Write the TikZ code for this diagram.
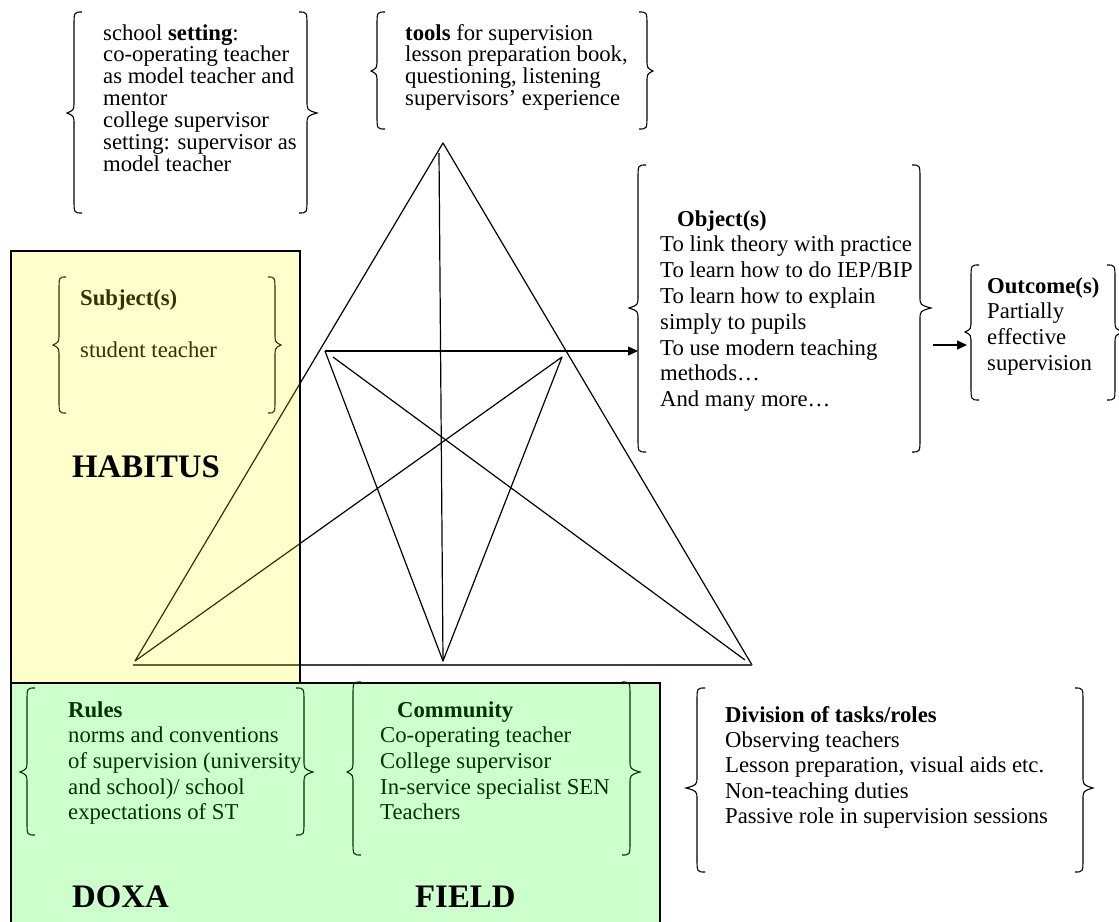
\documentclass[tikz,border=0pt]{standalone}
\usepackage{fontspec}
\setmainfont{Liberation Serif}
\usetikzlibrary{arrows.meta}
\definecolor{olivetxt}{RGB}{51,51,0}
\definecolor{greentxt}{RGB}{0,51,0}
\definecolor{pureyellow}{RGB}{255,255,0}
\definecolor{puregreen}{RGB}{0,255,0}
\newcommand{\Ln}[1]{\hbox{#1}}
\newcommand{\Lines}[2]{\vtop{\baselineskip=#1pt\lineskiplimit=-1000pt\relax #2}}
% [style]{xbody}{xtip}{xhook}{top}{mid}{bot}
\newcommand{\Brc}[7][]{%
  \draw[bracestyle,#1] (#4,#5) .. controls (#2,#5) .. (#2,#5+14) -- (#2,#6-12)
    .. controls (#2,#6-3) .. (#3,#6) .. controls (#2,#6+3) .. (#2,#6+12)
    -- (#2,#7-14) .. controls (#2,#7) .. (#4,#7);}
\tikzset{
  bracestyle/.style={line width=1.1pt},
  tri/.style={line width=1.2pt, line join=round},
  basel/.style={line width=1.8pt, black!75},
  arr/.style={line width=1.4pt, -{Triangle[length=10pt,width=9pt]}},
  txt/.style={anchor=base west, inner sep=0pt, font=\fontsize{22.7}{21.7}\selectfont},
  big/.style={anchor=base west, inner sep=0pt, font=\fontsize{32.8}{36}\selectfont\bfseries},
  habbox/.style={line width=1.8pt, fill=pureyellow, fill opacity=0.2},
  fieldbox/.style={line width=1.8pt, fill=puregreen, fill opacity=0.2}
}
\begin{document}
\begin{tikzpicture}[x=1pt,y=-1pt]
\useasboundingbox (0,0) rectangle (1119,921);
% triangle structure
\coordinate (A) at (443,143);
\coordinate (BL) at (135,661);
\coordinate (BLb) at (133,665);
\coordinate (BR) at (752,665);
\coordinate (Vt) at (439,153);
\coordinate (M) at (443,661);
\coordinate (P) at (325,351);
\coordinate (Pa) at (333,357);
\coordinate (Q) at (562,357);
\coordinate (R) at (745,660);
\coordinate (ObjIn) at (638,351);
\coordinate (OutA) at (933,345);
\coordinate (OutB) at (967,345);
\draw[tri] (BL) -- (A) -- (BR);
\draw[basel] (BLb) -- (BR);
\draw[tri] (Vt) -- (M);
\draw[tri] (P) -- (M) -- (Q) -- (BL);
\draw[tri] (Pa) -- (R);
\draw[arr] (P) -- (ObjIn);
\draw[arr] (OutA) -- (OutB);
% coloured areas
\draw[habbox] (11,251) rectangle (300,683);
\draw[fieldbox] (11,683) rectangle (660,926);
% setting box
\Brc{74}{67}{82}{12}{113}{213}
\Brc{307}{317}{299}{12}{113}{213}
\node[txt] (setting) at (103,40) {\Lines{21.9}{\Ln{school \textbf{setting}:}\Ln{co-operating teacher}\Ln{as model teacher and}\Ln{mentor}\Ln{college supervisor}\Ln{setting: supervisor as}\Ln{model teacher}}};
% tools box
\Brc{377}{371}{385}{12}{71}{129}
\Brc{647}{653}{639}{12}{71}{129}
\node[txt] (tools) at (405,40) {\Lines{21.9}{\Ln{\textbf{tools} for supervision}\Ln{lesson preparation book,}\Ln{questioning, listening}\Ln{supervisors’ experience}}};
% subject box
\Brc[olivetxt]{59}{53}{66}{277}{345}{413}
\Brc[olivetxt]{275}{281}{268}{277}{345}{413}
\node[txt, text=olivetxt] (subject) at (80,305) {\Lines{52}{\Ln{\textbf{Subject(s)}}\Ln{student teacher}}};
\node[big] (habitus) at (72,477) {HABITUS};
% object box
\Brc{638}{629}{646}{165}{308}{452}
\Brc{920}{931}{912}{165}{308}{452}
\node[txt] (object) at (660,226) {\Lines{25.8}{\Ln{\hspace*{17pt}\textbf{Object(s)}}\Ln{To link theory with practice}\Ln{To learn how to do IEP/BIP}\Ln{To learn how to explain}\Ln{simply to pupils}\Ln{To use modern teaching}\Ln{methods…}\Ln{And many more…}}};
% outcome box
\Brc{971}{965}{979}{265}{332}{400}
\Brc{1115}{1124}{1107}{265}{332}{400}
\node[txt] (outcome) at (987,293) {\Lines{25.8}{\Ln{\textbf{Outcome(s)}}\Ln{Partially}\Ln{effective}\Ln{supervision}}};
% rules box
\Brc[greentxt]{27}{20}{35}{688}{772}{835}
\Brc[greentxt]{304}{313}{296}{688}{772}{835}
\node[txt, text=greentxt] (rules) at (68,717) {\Lines{25.7}{\Ln{\textbf{Rules}}\Ln{norms and conventions}\Ln{of supervision (university}\Ln{and school)/ school}\Ln{expectations of ST}}};
% community box
\Brc[greentxt]{353}{347}{361}{682}{772}{855}
\Brc[greentxt]{630}{640}{622}{682}{772}{855}
\node[txt, text=greentxt] (community) at (380,717) {\Lines{25.7}{\Ln{\hspace*{17pt}\textbf{Community}}\Ln{Co-operating teacher}\Ln{College supervisor}\Ln{In-service specialist SEN}\Ln{Teachers}}};
% division box
\Brc{697}{686}{705}{688}{788}{872}
\Brc{1083}{1093}{1075}{688}{788}{872}
\node[txt] (division) at (725,722) {\Lines{25.4}{\Ln{\textbf{Division of tasks/roles}}\Ln{Observing teachers}\Ln{Lesson preparation, visual aids etc.}\Ln{Non-teaching duties}\Ln{Passive role in supervision sessions}}};
\node[big] (doxa) at (72,907) {DOXA};
\node[big] (field) at (415,907) {FIELD};
\end{tikzpicture}
\end{document}
